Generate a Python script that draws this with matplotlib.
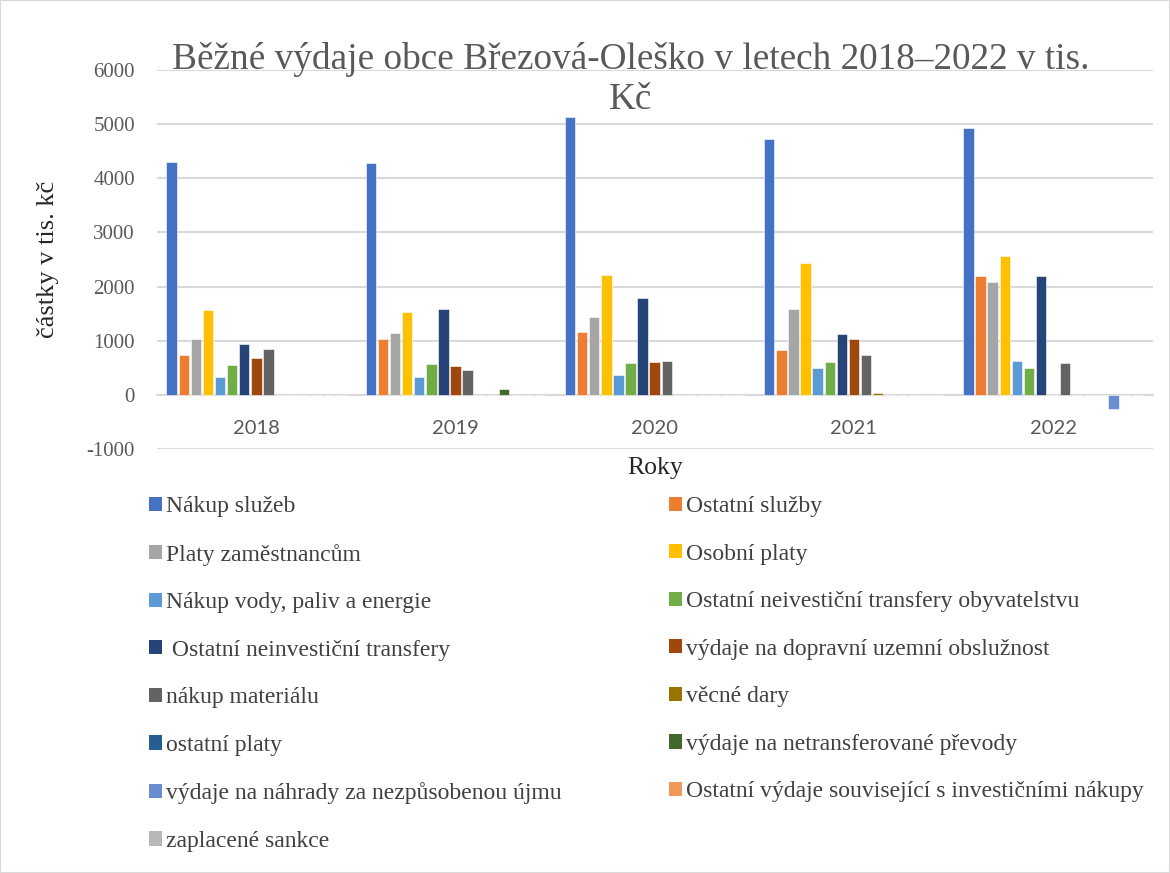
import matplotlib
matplotlib.use("Agg")
import matplotlib.pyplot as plt
import numpy as np
from matplotlib.patches import Patch, Rectangle

years = ["2018", "2019", "2020", "2021", "2022"]
series_names = [
    "Nákup služeb",
    "Ostatní služby",
    "Platy zaměstnancům",
    "Osobní platy",
    "Nákup vody, paliv a energie",
    "Ostatní neivestiční transfery obyvatelstvu",
    " Ostatní neinvestiční transfery",
    "výdaje na dopravní uzemní obslužnost",
    "nákup materiálu",
    "věcné dary",
    "ostatní platy",
    "výdaje na netransferované převody",
    "výdaje na náhrady za nezpůsobenou újmu",
    "Ostatní výdaje související s investičními nákupy",
    "zaplacené sankce",
]
nakup_sluzeb = [4307, 4289, 5123, 4719, 4926]
ostatni_sluzby = [748, 1037, 1160, 828, 2197]
platy_zamestnancum = [1030, 1141, 1447, 1582, 2086]
osobni_platy = [1564, 1533, 2215, 2430, 2565]
nakup_vody = [325, 331, 362, 497, 620]
transfery_obyv = [546, 577, 583, 607, 497]
neinv_transfery = [939, 1582, 1785, 1123, 2197]
doprava = [681, 528, 613, 1031, 0]
nakup_materialu = [859, 460, 620, 748, 589]
vecne_dary = [10, 10, 3, 30, 5]
ostatni_platy = [0, 10, 0, 0, 0]
netransferovane = [0, 110, 0, 0, 0]
nahrady = [0, 0, 0, 0, -265]
investicni_nakupy = [0, 10, 0, 0, 0]
sankce = [0, 0, 6, 0, 0]

values = [nakup_sluzeb, ostatni_sluzby, platy_zamestnancum, osobni_platy, nakup_vody,
          transfery_obyv, neinv_transfery, doprava, nakup_materialu, vecne_dary,
          ostatni_platy, netransferovane, nahrady, investicni_nakupy, sankce]
colors = ["#4472C4", "#ED7D31", "#A5A5A5", "#FFC000", "#5B9BD5", "#70AD47", "#264478",
          "#9E480E", "#636363", "#997300", "#255E91", "#43682B", "#698ED0", "#F1975A", "#B7B7B7"]

W, H = 1170, 873
fig = plt.figure(figsize=(W / 100, H / 100), dpi=100)
ax_l, ax_r, ax_t, ax_b = 156.7, 1152.7, 69.8, 449.3
ax = fig.add_axes([ax_l / W, 1 - ax_b / H, (ax_r - ax_l) / W, (ax_b - ax_t) / H])

for s in ["left", "right", "top"]:
    ax.spines[s].set_visible(False)
ax.spines["bottom"].set_position(("data", 0))
ax.spines["bottom"].set_color("#D9D9D9")
ax.spines["bottom"].set_linewidth(1.5)

n = len(values)
x = np.arange(len(years))
slot = 1.0 / (n + 1.47)
for i, (vals, c) in enumerate(zip(values, colors)):
    pos = x - (n * slot) / 2 + slot * (i + 0.5)
    ax.bar(pos, vals, width=slot * 0.86, color=c, edgecolor="white", linewidth=0.4,
           label=series_names[i], zorder=3)

ax.set_xlim(-0.5, len(years) - 0.5)
ax.set_ylim(-1000, 6000)
ax.set_yticks(range(-1000, 6001, 1000))
ax.set_yticklabels([str(v) for v in range(-1000, 6001, 1000)],
                   fontfamily="Liberation Serif", fontsize=15, color="#595959")
ax.set_xticks(x)
ax.set_xticklabels(years, fontfamily="Lato", fontsize=14.5, color="#595959")
ax.tick_params(axis="both", length=0)
ax.tick_params(axis="x", pad=18)
ax.tick_params(axis="y", pad=15.6)
ax.grid(axis="y", color="#D9D9D9", linewidth=1.5, zorder=0)

fig.text(48 / W, 1 - 259 / H, "částky v tis. kč", rotation=90, ha="center", va="center",
         fontfamily="Liberation Serif", fontsize=19, color="#262626")
fig.text(655 / W, 1 - 468 / H, "Roky", ha="center", va="center",
         fontfamily="Liberation Serif", fontsize=18.5, color="#262626")
fig.text(631 / W, 1 - 79.5 / H, "Běžné výdaje obce Březová-Oleško v letech 2018–2022 v tis.\nKč",
         ha="center", va="center", fontfamily="Liberation Serif", fontsize=26.8,
         color="#595959", linespacing=1.21)

handles = [Patch(facecolor=c) for c in colors]
left_idx = list(range(0, n, 2))
right_idx = list(range(1, n, 2))
common = dict(frameon=False, handlelength=0.55, handleheight=0.55, handletextpad=0.15,
              labelspacing=1.125, borderaxespad=0, borderpad=0,
              prop={"family": "Liberation Serif", "size": 17}, labelcolor="#404040")
leg1 = fig.legend([handles[i] for i in left_idx], [series_names[i] for i in left_idx],
                  loc="upper left", bbox_to_anchor=(149 / W, 1 - 496 / H), **common)
leg2 = fig.legend([handles[i] for i in right_idx], [series_names[i] for i in right_idx],
                  loc="upper left", bbox_to_anchor=(669 / W, 1 - 496 / H), **common)

fig.patches.append(Rectangle((0, 0), 1, 1, transform=fig.transFigure, fill=False,
                             edgecolor="#D9D9D9", linewidth=1.5))

fig.savefig("out.png", dpi=100)
